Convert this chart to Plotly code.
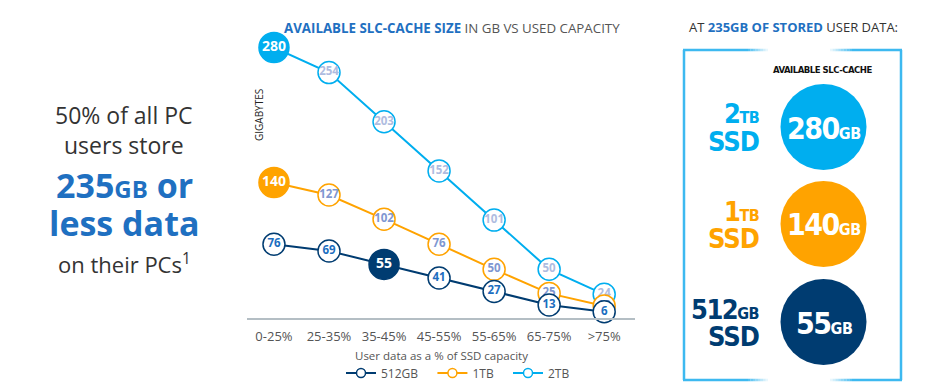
import plotly.graph_objects as go

W, H = 932, 388

categories = ["0-25%", "25-35%", "35-45%", "45-55%", "55-65%", "65-75%", ">75%"]
series_names = ["512GB", "1TB", "2TB"]
vals_512gb = [76, 69, 55, 41, 27, 13, 6]
vals_1tb = [140, 127, 102, 76, 50, 25, 12]
vals_2tb = [280, 254, 203, 152, 101, 50, 24]
highlight_idx = [2, 0, 0]  # point at 235GB of stored data, per series

colors = ["#003C71", "#FFA300", "#00AEEF"]
label_colors = ["#1C6EC0", "#7F97D1", "#AFBCE0"]
series_vals = [vals_512gb, vals_1tb, vals_2tb]

FONT = "Open Sans, Noto Sans, DejaVu Sans, sans-serif"
NARROW = "DejaVu Sans"
COND = "font-stretch:condensed"


def px(x):
    return x / W


def py(y):
    return (H - y) / H


xs = list(range(len(categories)))

fig = go.Figure()

for k in [2, 1, 0]:
    vals = series_vals[k]
    hi = highlight_idx[k]
    sizes = [30 if i == hi else 22 for i in range(len(vals))]
    fills = [colors[k] if i == hi else "white" for i in range(len(vals))]
    tcol = ["white" if i == hi else label_colors[k] for i in range(len(vals))]
    tsize = [14 if i == hi else 11.5 for i in range(len(vals))]
    fig.add_trace(go.Scatter(
        x=xs, y=vals, mode="lines+markers+text",
        text=[str(v) for v in vals], textposition="middle center",
        textfont=dict(family=FONT, size=tsize, color=tcol, weight="bold"),
        line=dict(color=colors[k], width=2),
        marker=dict(size=sizes, color=fills, opacity=1, line=dict(color=colors[k], width=1.5)),
        cliponaxis=False, showlegend=False, hoverinfo="skip",
    ))

NB = "\u00a0" * 3
for k in range(3):
    fig.add_trace(go.Scatter(
        x=[None], y=[None], mode="lines+markers",
        name=series_names[k] + (NB if k < 2 else ""),
        line=dict(color=colors[k], width=2),
        marker=dict(size=9, color="white", line=dict(color=colors[k], width=1.5)),
    ))

fig.update_xaxes(
    tickvals=xs, ticktext=categories,
    range=[-0.49, 6.56], domain=[px(247), px(635)],
    showline=True, linecolor="#B4BEC4", linewidth=2,
    showgrid=False, zeroline=False,
    ticks="outside", ticklen=6, tickcolor="rgba(0,0,0,0)",
    tickfont=dict(family=FONT, size=13, color="#555555"),
)
fig.update_yaxes(range=[0, 280], domain=[py(317.5), py(47.5)], visible=False)

ann = []
ann.append(dict(
    x=px(452), y=py(28), xref="paper", yref="paper", showarrow=False,
    text="<b><span style='color:#1F70C1'>AVAILABLE SLC-CACHE SIZE</span></b> IN GB VS USED CAPACITY",
    font=dict(family=FONT, size=13.3, color="#555555"), xanchor="center", yanchor="middle",
))
ann.append(dict(
    x=px(259), y=py(115), xref="paper", yref="paper", showarrow=False,
    text="GIGABYTES", textangle=-90,
    font=dict(family=FONT, size=10, color="#222222"), xanchor="center", yanchor="middle",
))
ann.append(dict(
    x=px(441), y=py(355), xref="paper", yref="paper", showarrow=False,
    text="User data as a % of SSD capacity",
    font=dict(family=FONT, size=11.5, color="#555555"), xanchor="center", yanchor="middle",
))
left_lines = [
    (115, "50% of all PC", 23, "#333333"),
    (145, "users store", 23, "#333333"),
    (185, "<b>235<span style='font-size:24px'>GB</span> or</b>", 34, "#1F70C1"),
    (223, "<b>less data</b>", 34, "#1F70C1"),
    (263, "on their PCs<sup>1</sup>", 22, "#333333"),
]
for y, t, s, c in left_lines:
    ann.append(dict(
        x=px(124), y=py(y), xref="paper", yref="paper", showarrow=False,
        text=t, font=dict(family=FONT, size=s, color=c),
        xanchor="center", yanchor="middle",
    ))
ann.append(dict(
    x=px(793), y=py(27), xref="paper", yref="paper", showarrow=False,
    text="AT <b><span style='color:#1F70C1'>235GB OF STORED</span></b> USER DATA:",
    font=dict(family=FONT, size=13, color="#333333"), xanchor="center", yanchor="middle",
))
ann.append(dict(
    x=px(823), y=py(69), xref="paper", yref="paper", showarrow=False,
    text=f"<b><span style='{COND};letter-spacing:-0.5px'>AVAILABLE SLC-CACHE</span></b>",
    font=dict(family=NARROW, size=9.5, color="#111111"), xanchor="center", yanchor="middle",
))

shapes = []
bc = "#3DB9F0"
shapes.append(dict(type="line", xref="paper", yref="paper", x0=px(684), x1=px(684), y0=py(50), y1=py(380), line=dict(color=bc, width=2.5)))
shapes.append(dict(type="line", xref="paper", yref="paper", x0=px(901), x1=px(901), y0=py(50), y1=py(380), line=dict(color=bc, width=2.5)))
for yy in (50, 380):
    shapes.append(dict(type="line", xref="paper", yref="paper", x0=px(683), x1=px(748), y0=py(yy), y1=py(yy), line=dict(color=bc, width=2.5)))
    shapes.append(dict(type="line", xref="paper", yref="paper", x0=px(852), x1=px(902), y0=py(yy), y1=py(yy), line=dict(color=bc, width=2.5)))
    steps = 8
    for j in range(steps):
        op = 1 - (j + 1) / (steps + 1)
        shapes.append(dict(type="line", xref="paper", yref="paper",
                           x0=px(748 + j * 2.5), x1=px(748 + (j + 1) * 2.5), y0=py(yy), y1=py(yy),
                           line=dict(color=bc, width=2.5), opacity=op))
        shapes.append(dict(type="line", xref="paper", yref="paper",
                           x0=px(852 - (j + 1) * 2.75), x1=px(852 - j * 2.75), y0=py(yy), y1=py(yy),
                           line=dict(color=bc, width=2.5), opacity=op))

panel_order = [2, 1, 0]
centers_y = [127, 224, 322]
cx, r = 823.5, 43
label_parts = {2: ("2", "TB"), 1: ("1", "TB"), 0: ("512", "GB")}
LS = "letter-spacing:-1.5px"
for cy, k in zip(centers_y, panel_order):
    shapes.append(dict(type="circle", xref="paper", yref="paper",
                       x0=px(cx - r), x1=px(cx + r), y0=py(cy + r), y1=py(cy - r),
                       fillcolor=colors[k], line=dict(width=0)))
    v = series_vals[k][highlight_idx[k]]
    ann.append(dict(
        x=px(cx), y=py(cy + 1), xref="paper", yref="paper", showarrow=False,
        text=f"<b><span style='{COND};{LS}'>{v}</span><span style='{COND};letter-spacing:-0.5px;font-size:16px'>GB</span></b>",
        font=dict(family=NARROW, size=30, color="white"), xanchor="center", yanchor="middle",
    ))
    big, small = label_parts[k]
    ann.append(dict(
        x=px(761), y=py(cy - 13), xref="paper", yref="paper", showarrow=False,
        text=f"<b><span style='{COND};{LS}'>{big}</span><span style='{COND};letter-spacing:-0.5px;font-size:16px'>{small}</span></b>",
        font=dict(family=NARROW, size=27, color=colors[k]), xanchor="right", yanchor="middle",
    ))
    ann.append(dict(
        x=px(761), y=py(cy + 14), xref="paper", yref="paper", showarrow=False,
        text=f"<b><span style='{COND};letter-spacing:-1px'>SSD</span></b>",
        font=dict(family=NARROW, size=27, color=colors[k]), xanchor="right", yanchor="middle",
    ))

fig.update_layout(
    width=W, height=H, margin=dict(l=0, r=0, t=0, b=0),
    paper_bgcolor="white", plot_bgcolor="white",
    annotations=ann, shapes=shapes,
    showlegend=True,
    legend=dict(orientation="h", x=px(458), xanchor="center", y=py(373), yanchor="middle",
                font=dict(family=FONT, size=12, color="#555555"), bgcolor="rgba(0,0,0,0)",
                itemwidth=30, tracegroupgap=0),
)

fig.write_html("out.html", config={"displayModeBar": False},
               post_script="document.body.style.margin='0';document.body.style.padding='0';")
